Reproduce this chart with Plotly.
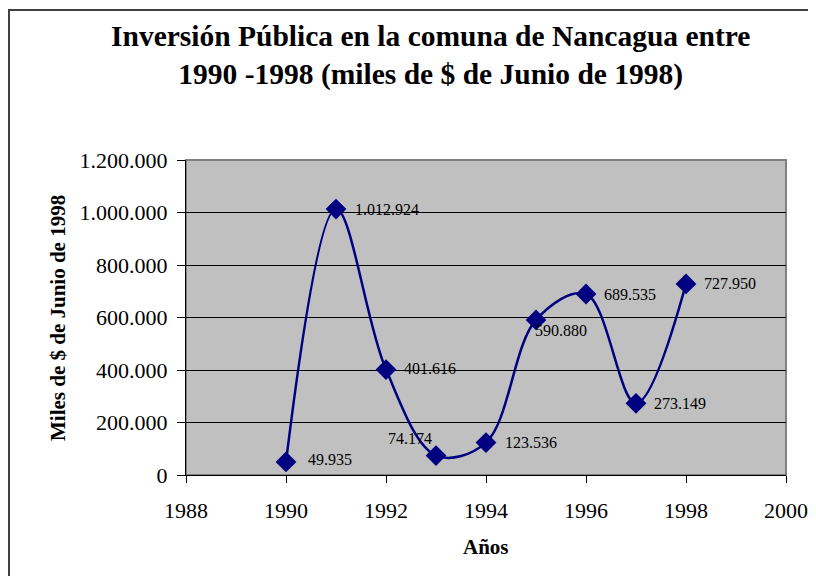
import plotly.graph_objects as go

years = [1990, 1991, 1992, 1993, 1994, 1995, 1996, 1997, 1998]
values = [49935, 1012924, 401616, 74174, 123536, 590880, 689535, 273149, 727950]
labels = ["49.935", "1.012.924", "401.616", "74.174", "123.536",
          "590.880", "689.535", "273.149", "727.950"]

title_text = "Inversión Pública en la comuna de Nancagua entre<br>1990 -1998 (miles de $ de Junio de 1998)"
x_title = "Años"
y_title = "Miles de $ de Junio de 1998"

FONT = "Liberation Serif, Times New Roman, serif"

# label placement styles (anchor, xshift, yshift)
label_style = [("left", 20, 2), ("left", 17, 0), ("left", 16, 1), ("right", -2, 17), ("left", 17, 0),
               ("left", -3, -11), ("left", 16, 0), ("left", 16, 0), ("left", 16, 0)]

fig = go.Figure()
fig.add_trace(go.Scatter(
    x=years, y=values, mode="lines+markers",
    line=dict(shape="spline", smoothing=1.0, color="#000080", width=2.5),
    marker=dict(symbol="diamond", size=16, color="#000080"),
    cliponaxis=False,
    hoverinfo="skip",
))

annotations = []
for xv, yv, lab, (anc, dx, dy) in zip(years, values, labels, label_style):
    annotations.append(dict(x=xv, y=yv, xref="x", yref="y", text=lab, showarrow=False,
                            xanchor=anc, yanchor="middle", xshift=dx, yshift=dy,
                            font=dict(family=FONT, size=16, color="black")))

annotations += [
    dict(text=f"<b>{title_text}</b>", xref="paper", yref="paper", x=(430-186)/600, y=(475-55)/315,
         xanchor="center", yanchor="middle", showarrow=False,
         font=dict(family=FONT, size=29.5, color="black")),
    dict(text=f"<b>{x_title}</b>", xref="paper", yref="paper", x=(486-186)/600, y=(475-547)/315,
         xanchor="center", yanchor="middle", showarrow=False,
         font=dict(family=FONT, size=21, color="black")),
    dict(text=f"<b>{y_title}</b>", xref="paper", yref="paper", x=(58-186)/600, y=(475-318)/315,
         xanchor="center", yanchor="middle", showarrow=False, textangle=-90,
         font=dict(family=FONT, size=21, color="black")),
]

fig.update_layout(
    width=816, height=576,
    margin=dict(l=178, r=38, t=152, b=109),
    paper_bgcolor="white",
    plot_bgcolor="#C0C0C0",
    showlegend=False,
    separators=",.",
    font=dict(family=FONT, color="black"),
    xaxis=dict(range=[1988, 2000], tickvals=[1988, 1990, 1992, 1994, 1996, 1998, 2000],
               ticktext=["1988", "1990", "1992", "1994", "1996", "1998", "2000"],
               showgrid=False, zeroline=False, showline=True, linecolor="black", linewidth=1,
               ticks="outside", ticklen=7, tickcolor="black", ticklabelstandoff=9,
               tickfont=dict(family=FONT, size=22)),
    yaxis=dict(range=[0, 1200000], tickvals=[0, 200000, 400000, 600000, 800000, 1000000, 1200000],
               tickformat=",d", showgrid=True, gridcolor="black", gridwidth=1,
               zeroline=False, showline=True, linecolor="black", linewidth=1,
               ticks="outside", ticklen=8, tickcolor="black", ticklabelstandoff=5,
               tickfont=dict(family=FONT, size=22)),
    shapes=[
        dict(type="rect", xref="paper", yref="paper", x0=0, x1=1, y0=0, y1=1,
             line=dict(color="#808080", width=2), layer="below"),
        dict(type="rect", xref="paper", yref="paper", x0=-0.295, x1=1.2, y0=-0.6, y1=1.476,
             line=dict(color="#404040", width=2)),
    ],
    annotations=annotations,
)

fig.write_html("out.html")
